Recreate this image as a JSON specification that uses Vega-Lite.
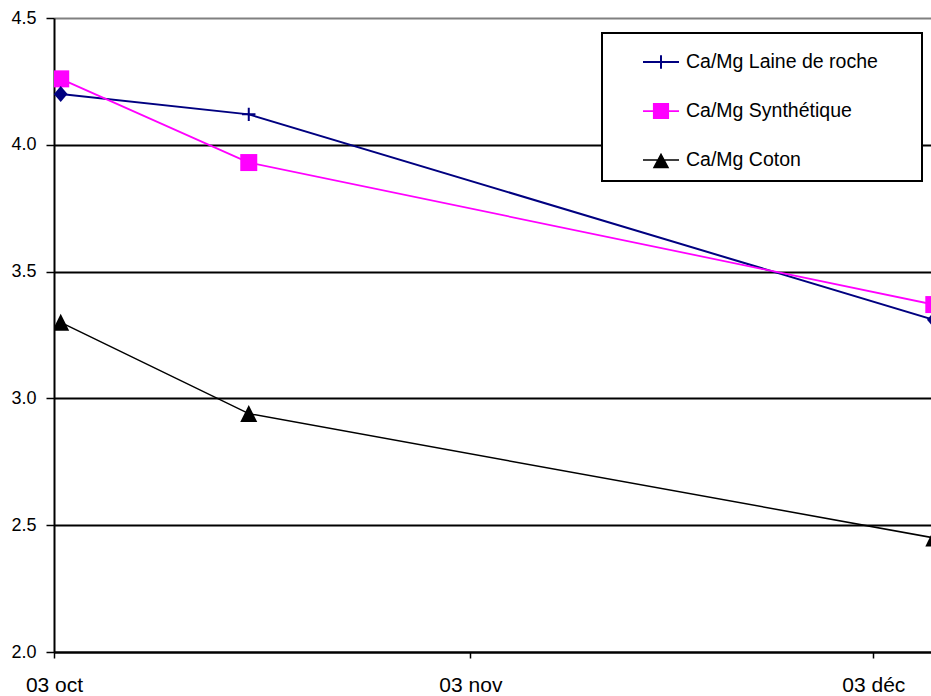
{
  "$schema": "https://vega.github.io/schema/vega-lite/v6.json",
  "width": 877,
  "height": 634,
  "autosize": {"type": "none"},
  "padding": {"left": 54, "top": 18, "right": 0, "bottom": 44},
  "background": "white",
  "config": {
    "view": {"stroke": null},
    "font": "Liberation Sans"
  },
  "data": {
    "values": [
      {"series": "Ca/Mg Laine de roche", "date": "2004-10-03T12:00", "value": 4.20},
      {"series": "Ca/Mg Laine de roche", "date": "2004-10-17T12:00", "value": 4.12},
      {"series": "Ca/Mg Laine de roche", "date": "2004-12-07T12:00", "value": 3.31},
      {"series": "Ca/Mg Synthétique", "date": "2004-10-03T12:00", "value": 4.26},
      {"series": "Ca/Mg Synthétique", "date": "2004-10-17T12:00", "value": 3.93},
      {"series": "Ca/Mg Synthétique", "date": "2004-12-07T12:00", "value": 3.37},
      {"series": "Ca/Mg Coton", "date": "2004-10-03T12:00", "value": 3.30},
      {"series": "Ca/Mg Coton", "date": "2004-10-17T12:00", "value": 2.94},
      {"series": "Ca/Mg Coton", "date": "2004-12-07T12:00", "value": 2.45}
    ]
  },
  "encoding": {
    "x": {
      "field": "date",
      "type": "temporal",
      "scale": {
        "domain": [
          {"year": 2004, "month": 10, "date": 3},
          {"year": 2004, "month": 12, "date": 7, "hours": 7}
        ]
      },
      "axis": {
        "title": null,
        "grid": false,
        "values": [
          {"year": 2004, "month": 10, "date": 3},
          {"year": 2004, "month": 11, "date": 3},
          {"year": 2004, "month": 12, "date": 3}
        ],
        "labelExpr": "timeFormat(datum.value, '%d') + ' ' + ['janv','févr','mars','avr','mai','juin','juil','août','sept','oct','nov','déc'][month(datum.value)]",
        "labelFlush": false,
        "labelOverlap": false,
        "labelFontSize": 21,
        "labelColor": "black",
        "labelPadding": 16,
        "domainColor": "black",
        "domainWidth": 2,
        "tickColor": "black",
        "tickSize": 6,
        "tickWidth": 1.5
      }
    },
    "y": {
      "field": "value",
      "type": "quantitative",
      "scale": {"domain": [2, 4.5], "nice": false, "zero": false},
      "axis": {
        "title": null,
        "values": [2, 2.5, 3, 3.5, 4, 4.5],
        "format": ".1f",
        "grid": true,
        "gridColor": {"condition": {"test": "datum.value == 4.5", "value": "#808080"}, "value": "black"},
        "gridWidth": 2,
        "domainColor": "black",
        "domainWidth": 2,
        "tickColor": "black",
        "tickSize": 8,
        "tickWidth": 1.5,
        "labelFontSize": 18,
        "labelColor": "black",
        "labelPadding": 10
      }
    }
  },
  "layer": [
    {
      "mark": {"type": "line", "clip": true},
      "encoding": {
        "color": {
          "field": "series",
          "type": "nominal",
          "scale": {
            "domain": ["Ca/Mg Laine de roche", "Ca/Mg Synthétique", "Ca/Mg Coton"],
            "range": ["#000080", "#FF00FF", "#000000"]
          },
          "legend": {
            "title": null,
            "orient": "none",
            "direction": "vertical",
            "legendX": 548,
            "legendY": 15,
            "padding": 10,
            "symbolOffset": 30,
            "labelOffset": 6,
            "rowPadding": 19,
            "labelFontSize": 19.5,
            "labelColor": "black",
            "labelLimit": 400,
            "symbolSize": 1296,
            "symbolStrokeWidth": 1.5,
            "strokeColor": "black",
            "fillColor": "white",
            "encode": {
              "legend": {"update": {"strokeWidth": {"value": 2}}},
              "symbols": {
                "update": {
                  "shape": {"signal": "datum.value == 'Ca/Mg Laine de roche' ? 'M-1,0H1M0,-0.38V0.38M13.7,0' : datum.value == 'Ca/Mg Synthétique' ? 'M-1,0H1M-0.4,-0.4H0.4V0.4H-0.4ZM13.7,0' : 'M-1,0H1M0,-0.31L0.39,0.41H-0.39ZM13.7,0'"},
                  "fill": {"scale": "color", "field": "value"},
                  "stroke": {"scale": "color", "field": "value"},
                  "strokeWidth": {"value": 1.5},
                  "opacity": {"value": 1}
                }
              }
            }
          }
        },
        "strokeWidth": {
          "field": "series",
          "type": "nominal",
          "scale": {
            "domain": ["Ca/Mg Laine de roche", "Ca/Mg Synthétique", "Ca/Mg Coton"],
            "range": [2, 1.5, 1.5]
          },
          "legend": null
        }
      }
    },
    {
      "transform": [{"filter": "datum.series == 'Ca/Mg Synthétique'"}],
      "mark": {"type": "point", "shape": "square", "filled": true, "color": "#FF00FF", "size": 289, "opacity": 1, "clip": true}
    },
    {
      "transform": [{"filter": "datum.series == 'Ca/Mg Coton'"}],
      "mark": {"type": "point", "shape": "M0,-1L1,1H-1Z", "filled": true, "color": "#000000", "size": 289, "opacity": 1, "clip": true}
    },
    {
      "transform": [{"filter": "datum.series == 'Ca/Mg Laine de roche' && date(datum.date) != 17"}],
      "mark": {"type": "point", "shape": "M0,-1L0.85,0L0,1L-0.85,0Z", "filled": true, "color": "#000080", "size": 256, "opacity": 1, "clip": true}
    },
    {
      "transform": [{"filter": "datum.series == 'Ca/Mg Laine de roche' && date(datum.date) == 17"}],
      "mark": {"type": "point", "shape": "M-1,0H1M0,-1V1", "filled": false, "color": "#000080", "strokeWidth": 2, "size": 180, "opacity": 1, "clip": true}
    }
  ]
}
